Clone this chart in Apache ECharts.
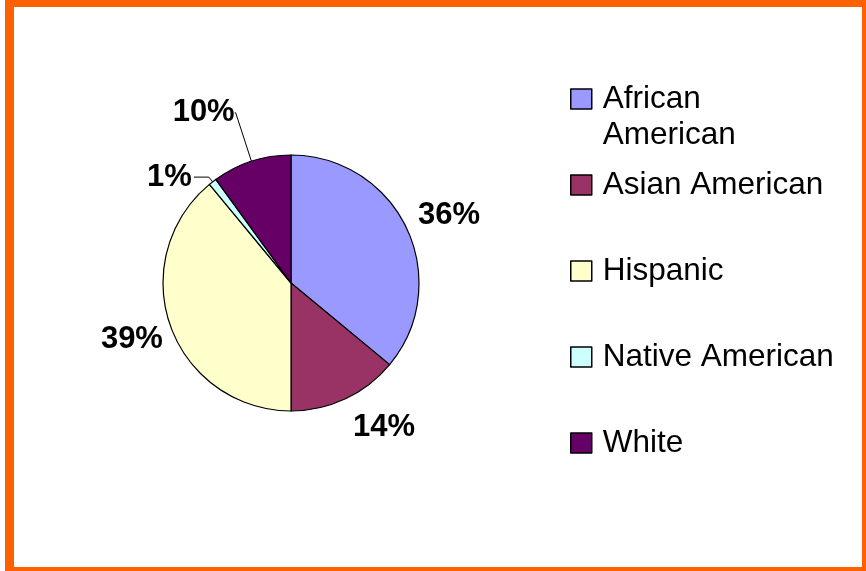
<!DOCTYPE html>
<html>
<head>
<meta charset="utf-8">
<script src="https://cdn.jsdelivr.net/npm/echarts@6/dist/echarts.min.js"></script>
<style>
html,body{margin:0;padding:0;background:#fff;}
#chart{width:866px;height:571px;}
</style>
</head>
<body>
<div id="chart"></div>
<script>
const categories = ['African American', 'Asian American', 'Hispanic', 'Native American', 'White'];
const legendLabels = ['\nAfrican\nAmerican', 'Asian American', 'Hispanic', 'Native American', 'White'];
const values = [36, 14, 39, 1, 10];
const colors = ['#9999FF', '#993366', '#FFFFCC', '#CCFFFF', '#660066'];

// label placement styling (not data)
const labelPlacement = [
  { length: 30, length2: 0, dist: -16, line: false },
  { length: 32, length2: 0, dist: -6, line: false },
  { length: 40, length2: 0, dist: -30, line: false },
  { length: 6, length2: 15, dist: 2, line: true },
  { length: 51, length2: 1, dist: 0, line: true }
];

const FONT = 'Liberation Sans, Arial, sans-serif';
const LH = 36;

const chart = echarts.init(document.getElementById('chart'), null, { renderer: 'canvas' });

const data = categories.map((name, i) => ({
  name: name,
  value: values[i],
  itemStyle: { color: colors[i] },
  label: { distanceToLabelLine: labelPlacement[i].dist },
  labelLine: {
    show: labelPlacement[i].line,
    length: labelPlacement[i].length,
    length2: labelPlacement[i].length2
  }
}));

const legendData = categories.map((name, i) => ({
  name: name,
  textStyle: {
    padding: i === 0 ? [0, 0, 0, 6] : [LH, 0, LH, 6]
  }
}));

const option = {
  animation: false,
  backgroundColor: '#ffffff',
  graphic: [
    { type: 'rect', shape: { x: 5, y: 0, width: 861, height: 7 }, style: { fill: '#FF6000' }, z: 100 },
    { type: 'rect', shape: { x: 5, y: 0, width: 9, height: 571 }, style: { fill: '#FF6000' }, z: 100 },
    { type: 'rect', shape: { x: 862, y: 0, width: 4, height: 571 }, style: { fill: '#FF6000' }, z: 100 },
    { type: 'rect', shape: { x: 5, y: 567, width: 861, height: 4 }, style: { fill: '#FF6000' }, z: 100 }
  ],
  legend: {
    orient: 'vertical',
    left: 570,
    top: 45,
    padding: 0,
    itemGap: -22,
    itemWidth: 21,
    itemHeight: 20,
    icon: 'rect',
    selectedMode: false,
    itemStyle: { borderColor: '#000', borderWidth: 1.5 },
    formatter: function (name) {
      return legendLabels[categories.indexOf(name)];
    },
    textStyle: {
      fontFamily: FONT,
      fontSize: 31.5,
      lineHeight: LH,
      color: '#000'
    },
    data: legendData
  },
  series: [{
    type: 'pie',
    center: [291, 283],
    radius: 128,
    startAngle: 90,
    clockwise: true,
    avoidLabelOverlap: false,
    emphasis: { disabled: true },
    itemStyle: { borderColor: '#000', borderWidth: 1.2 },
    label: {
      show: true,
      position: 'outside',
      formatter: '{c}%',
      fontFamily: FONT,
      fontSize: 31,
      fontWeight: 'bold',
      color: '#000'
    },
    labelLine: {
      lineStyle: { color: '#000', width: 1 },
      minTurnAngle: 0
    },
    data: data
  }]
};

chart.setOption(option);
</script>
</body>
</html>
